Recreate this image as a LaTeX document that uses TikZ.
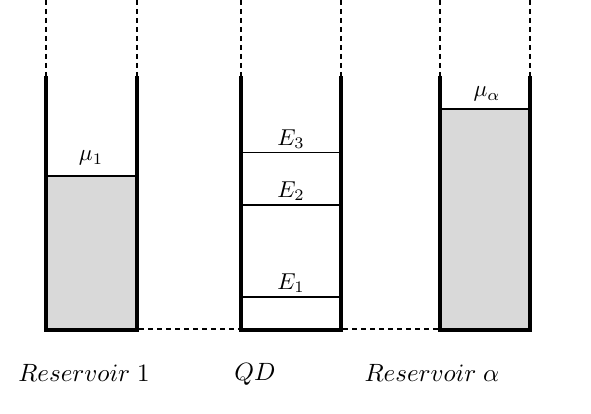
\documentclass[tikz,border=0pt]{standalone}
\usepackage{graphicx}
\begin{document}
\begin{tikzpicture}[x=1pt,y=-1pt,
  wall/.style={line width=4pt,line cap=butt},
  level/.style={line width=1.1pt},
  guide/.style={line width=1.2pt,dash pattern=on 5pt off 4pt},
  lab/.style={inner sep=0pt}]
\useasboundingbox (0,0) rectangle (591,414);
% fills
\fill[gray!30] (46,176) rectangle (137,330);
\fill[gray!30] (440,109) rectangle (530,330);
% reservoir 1
\draw[level] (46,176) -- (137,176);
\draw[guide] (46,0) -- (46,76);
\draw[guide] (137,0) -- (137,76);
\draw[wall] (46,76) -- (46,330) -- (137,330) -- (137,76);
% QD
\draw[level] (241,152.5) -- (341,152.5);
\draw[level] (241,205) -- (341,205);
\draw[level] (241,297) -- (341,297);
\draw[guide] (241,0) -- (241,76);
\draw[guide] (341,0) -- (341,76);
\draw[wall] (241,76) -- (241,330) -- (341,330) -- (341,76);
% reservoir alpha
\draw[level] (440,109) -- (530,109);
\draw[guide] (440,0) -- (440,76);
\draw[guide] (530,0) -- (530,76);
\draw[wall] (440,76) -- (440,330) -- (530,330) -- (530,76);
% bottom dashed links
\draw[guide] (139,329) -- (239,329);
\draw[guide] (343,329) -- (438,329);
% labels
\node[lab] (mu1) at (91,158) {\scalebox{2.3}{$\mu_1$}};
\node[lab] (e3) at (291,139) {\scalebox{2.3}{$E_3$}};
\node[lab] (e2) at (291,191) {\scalebox{2.3}{$E_2$}};
\node[lab] (e1) at (291,283) {\scalebox{2.3}{$E_1$}};
\node[lab] (mua) at (487,94) {\scalebox{2.3}{$\mu_\alpha$}};
\node[lab] (r1) at (84,373) {\scalebox{2.5}{$Reservoir\;1$}};
\node[lab] (qd) at (255,374) {\scalebox{2.5}{$QD$}};
\node[lab] (ra) at (432,373) {\scalebox{2.5}{$Reservoir\;\alpha$}};
\end{tikzpicture}
\end{document}
